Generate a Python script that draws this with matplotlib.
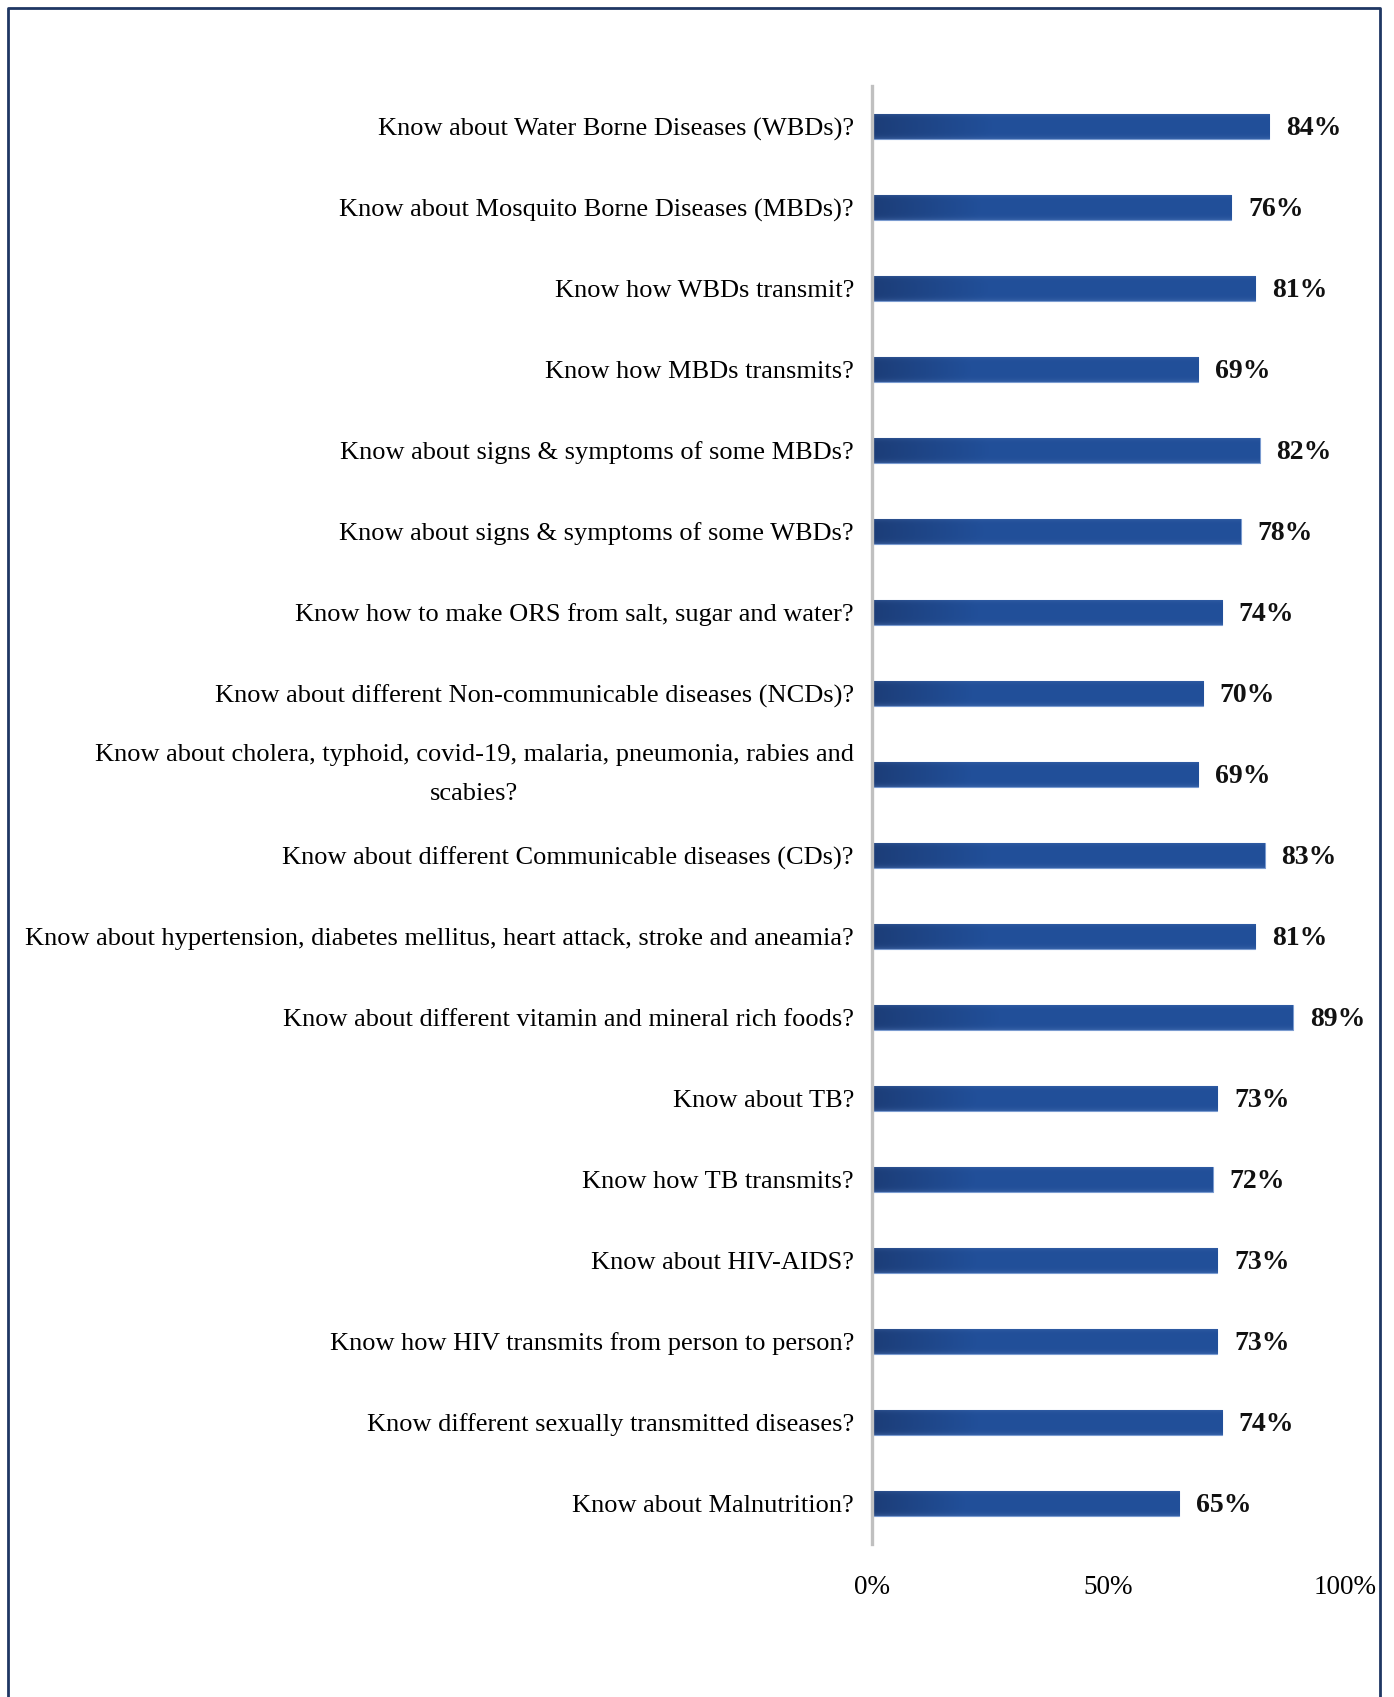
import numpy as np
import matplotlib.pyplot as plt
from matplotlib.lines import Line2D

# survey items, top to bottom
questions = [
    'Know about Water Borne Diseases (WBDs)?',
    'Know about Mosquito Borne Diseases (MBDs)?',
    'Know how WBDs transmit?',
    'Know how MBDs transmits?',
    'Know about signs & symptoms of some MBDs?',
    'Know about signs & symptoms of some WBDs?',
    'Know how to make ORS from salt, sugar and water?',
    'Know about different Non-communicable diseases (NCDs)?',
    'Know about cholera, typhoid, covid-19, malaria, pneumonia, rabies and\nscabies?',
    'Know about different Communicable diseases (CDs)?',
    'Know about hypertension, diabetes mellitus, heart attack, stroke and aneamia?',
    'Know about different vitamin and mineral rich foods?',
    'Know about TB?',
    'Know how TB transmits?',
    'Know about HIV-AIDS?',
    'Know how HIV transmits from person to person?',
    'Know different sexually transmitted diseases?',
    'Know about Malnutrition?',
]
percent = [84, 76, 81, 69, 82, 78, 74, 70, 69, 83, 81, 89, 73, 72, 73, 73, 74, 65]
xticks = [0, 50, 100]

plt.rcParams['font.family'] = ['Liberation Serif', 'DejaVu Serif']

W, H = 1394, 1697
fig = plt.figure(figsize=(W / 100, H / 100), dpi=100)
ax = fig.add_axes([872 / W, 1 - 1544 / H, 473 / W, (1544 - 86) / H])

y = np.arange(len(questions))
bars = ax.barh(y, percent, height=0.31, color='#22509a',
               edgecolor='#7a9bd0', linewidth=0.8, zorder=2)

# shading inside each bar: darker on the left, lighter towards the edges
nx, ny = 200, 24
gx = np.linspace(0, 1, nx)
gy = np.linspace(-1, 1, ny)
base = np.array([0.13, 0.31, 0.60])
dark = np.array([0.11, 0.24, 0.47])
t = np.clip(gx / 0.3, 0, 1)[None, :, None]
shade = dark * (1 - t) + base * t
edge = (np.abs(gy) ** 6)[:, None, None]
shade = shade * (1 - 0.35 * edge) + np.array([0.35, 0.50, 0.75]) * 0.35 * edge
for b in bars:
    x0, y0 = b.get_x(), b.get_y()
    im = ax.imshow(shade, extent=[x0, x0 + b.get_width(), y0 + b.get_height(), y0],
                   aspect='auto', interpolation='bilinear', zorder=3)
    im.set_clip_path(b)

for yi, v in zip(y, percent):
    ax.annotate(f'{v}%', (v, yi), xytext=(12, -1.5), textcoords='offset points',
                va='center', ha='left', fontsize=20, fontweight='bold', color='#111111')

ax.set_xlim(0, 100)
ax.set_ylim(len(questions) - 0.5, -0.5)
ax.set_yticks(y, questions, multialignment='center', linespacing=2.0)
ax.set_xticks(xticks, [f'{t}%' for t in xticks])
ax.tick_params(axis='y', length=0, pad=13, labelsize=19)
ax.tick_params(axis='x', length=0, pad=22, labelsize=19.5)
# wrapped labels centre on the bar as a block
for lab in ax.get_yticklabels():
    if '\n' in lab.get_text():
        lab.set_verticalalignment('center')

for s in ['top', 'right', 'bottom']:
    ax.spines[s].set_visible(False)
ax.spines['left'].set_color('#c0c0c0')
ax.spines['left'].set_linewidth(2.4)
ax.spines['left'].set_zorder(4)

# frame around the figure (open at the bottom)
fx0, fx1, fy1 = 8 / W, 1380 / W, 1 - 8 / H
fig.add_artist(Line2D([fx0, fx0, fx1, fx1], [0, fy1, fy1, 0],
                      color='#1f3763', linewidth=2, transform=fig.transFigure))

fig.savefig('out.png', dpi=100)
